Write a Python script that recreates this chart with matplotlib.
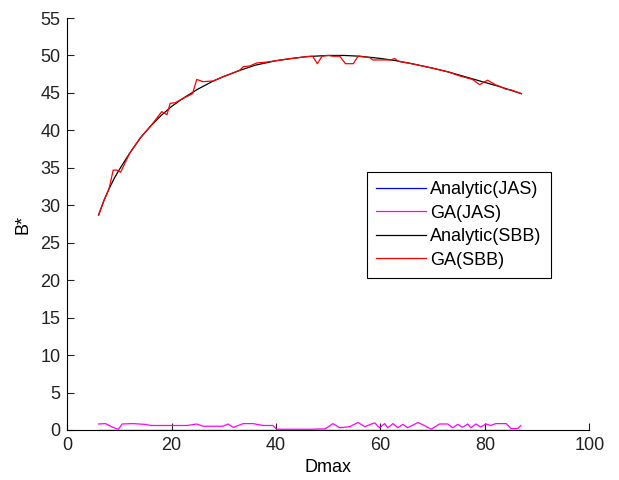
import matplotlib
matplotlib.use("Agg")
import matplotlib.pyplot as plt

plt.rcParams['font.family'] = ['Liberation Sans', 'DejaVu Sans']

# Analytic(SBB)
x_sbb = [6, 7, 8, 9, 10, 12, 14, 16, 18, 20, 22, 25, 28, 30, 33, 36, 40, 43, 46,
         50, 53, 56, 60, 63, 66, 70, 73, 76, 80, 83, 87]
y_sbb = [28.7, 30.6, 32.2, 33.6, 34.8, 37.0, 39.0, 40.6, 42.0, 43.2, 44.2, 45.5,
         46.6, 47.2, 48.0, 48.7, 49.3, 49.6, 49.85, 50.0, 50.0, 49.9, 49.6, 49.3,
         48.9, 48.3, 47.8, 47.2, 46.4, 45.8, 44.9]

# GA(SBB)
x_ga_sbb = [6, 7, 8, 8.8, 9.5, 10.2, 12, 14, 16, 18.1, 19.1, 19.7, 20.7, 22, 24,
            24.8, 26, 28, 30, 33, 33.7, 35, 36.3, 38, 40, 43, 46, 47, 47.9, 48.8,
            50, 50.9, 52.2, 53.3, 54.8, 55.7, 58, 58.5, 60.4, 62, 62.7, 63.5, 66,
            70, 73, 75, 77.6, 79, 80.5, 82, 83.1, 84, 85, 87]
y_ga_sbb = [28.7, 30.6, 32.2, 34.7, 34.7, 34.4, 37.0, 39.0, 40.6, 42.5, 42.1, 43.6,
            43.7, 44.2, 44.9, 46.8, 46.5, 46.6, 47.2, 48.0, 48.5, 48.6, 49.0, 49.1,
            49.3, 49.6, 49.85, 49.9, 48.9, 49.9, 50.0, 49.9, 49.9, 48.9, 48.9, 49.9,
            49.7, 49.4, 49.4, 49.4, 49.6, 49.2, 48.9, 48.3, 47.8, 47.3, 46.8, 46.1,
            46.7, 46.1, 45.8, 45.5, 45.4, 44.9]

# Analytic(JAS), essentially zero
x_jas = [6, 20, 40, 60, 87]
y_jas = [0.05, 0.05, 0.05, 0.05, 0.05]

# GA(JAS)
x_ga_jas = [6, 7.3, 8.9, 9.8, 10.5, 12.6, 14.9, 16, 23, 24.8, 26, 29.8, 30.8, 31.8,
            33.7, 35.6, 37.5, 39.4, 40.1, 46.5, 49.4, 50.9, 52.2, 54.1, 55.7, 57,
            58.3, 58.9, 59.8, 60.8, 61.4, 62.4, 63.3, 64.3, 65.2, 67.2, 68.4, 69.7,
            71.3, 72.9, 73.8, 74.8, 75.7, 76.7, 77.3, 78.3, 79.2, 80.2, 81.1, 82.1,
            84.1, 85, 86.3, 86.9]
y_ga_jas = [0.8, 0.85, 0.3, 0.1, 0.8, 0.85, 0.75, 0.6, 0.6, 0.8, 0.5, 0.5, 0.8, 0.35,
            0.85, 0.85, 0.6, 0.6, 0.1, 0.1, 0.15, 0.85, 0.3, 0.45, 1.0, 0.45,
            0.8, 0.95, 0.3, 0.85, 0.3, 0.85, 0.3, 0.75, 0.3, 1.0, 0.6, 0.1,
            0.8, 0.8, 0.3, 0.75, 0.35, 0.8, 0.3, 0.8, 0.4, 0.8, 0.6, 0.85,
            0.85, 0.2, 0.2, 0.6]

fig = plt.figure(figsize=(6.19, 4.8), dpi=100)
ax = fig.add_axes([0.1087, 0.1042, 0.8433, 0.8583])

lw = 0.9
ax.plot(x_jas, y_jas, color='#0000ff', lw=lw, label='Analytic(JAS)')
ax.plot(x_ga_jas, y_ga_jas, color='#ff00ff', lw=lw, label='GA(JAS)')
ax.plot(x_sbb, y_sbb, color='black', lw=lw, label='Analytic(SBB)')
ax.plot(x_ga_sbb, y_ga_sbb, color='red', lw=lw, label='GA(SBB)')

ax.set_xlim(0, 100)
ax.set_ylim(0, 55)
ax.set_xticks(range(0, 101, 20))
ax.set_yticks(range(0, 56, 5))
ax.spines['top'].set_visible(False)
ax.spines['right'].set_visible(False)
ax.tick_params(direction='in', length=5, labelsize=13, pad=5, colors='#222222')
ax.set_xlabel('Dmax', fontsize=13, labelpad=4)
ax.set_ylabel('B*', fontsize=13, labelpad=6)

leg = ax.legend(loc='upper left', bbox_to_anchor=(0.574, 0.626), fontsize=13,
                handlelength=2.8, handletextpad=0.2, borderpad=0.5,
                borderaxespad=0, labelspacing=0.36, fancybox=False, framealpha=1)
leg.get_frame().set_edgecolor('black')
leg.get_frame().set_linewidth(0.8)

fig.savefig('out.png', dpi=100)
